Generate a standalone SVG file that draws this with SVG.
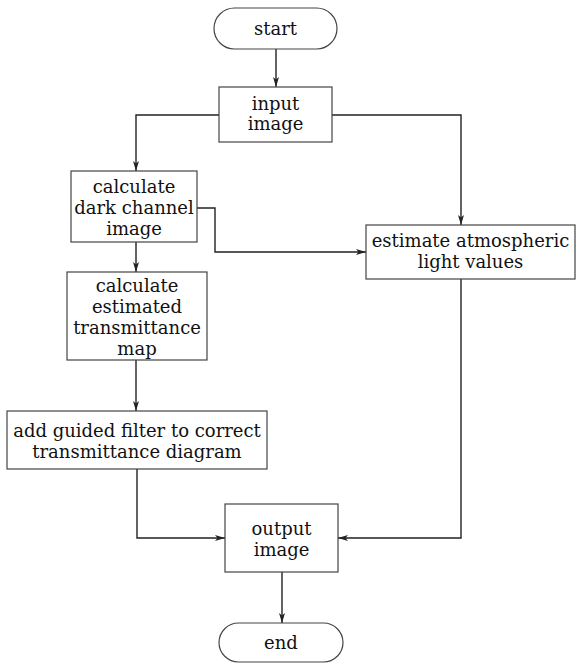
<svg xmlns="http://www.w3.org/2000/svg" width="576" height="663" viewBox="0 0 576 663">
<defs>
<marker id="ah" viewBox="0 0 10 6" refX="10" refY="3" markerWidth="10" markerHeight="6" markerUnits="userSpaceOnUse" orient="auto">
<path d="M0,0 L10,3 L0,6 L2.5,3 Z" fill="#222"/>
</marker>
</defs>
<style>
.box{fill:#fff;stroke:#444;stroke-width:1.2}
.t{font-size:18px;fill:#111;text-anchor:middle}
.c{fill:none;stroke:#222;stroke-width:1.4}
</style>
<rect width="576" height="663" fill="#fff"/>
<g id="connectors">
<path class="c" d="M276,49 V87" marker-end="url(#ah)"/>
<path class="c" d="M219,115 H136 V171" marker-end="url(#ah)"/>
<path class="c" d="M332,115 H461 V225" marker-end="url(#ah)"/>
<path class="c" d="M197,208 H215 V252 H366" marker-end="url(#ah)"/>
<path class="c" d="M136,242 V272" marker-end="url(#ah)"/>
<path class="c" d="M136,360 V411" marker-end="url(#ah)"/>
<path class="c" d="M137,469 V538 H225" marker-end="url(#ah)"/>
<path class="c" d="M461,279 V538 H338" marker-end="url(#ah)"/>
<path class="c" d="M282,572 V623" marker-end="url(#ah)"/>
</g>
<g font-family="'DejaVu Serif', 'Liberation Serif', serif">
<g id="start">
<rect class="box" x="214" y="8" width="123" height="41" rx="20.5"/>
<text class="t" x="275.5" y="35">start</text>
</g>
<g id="input">
<rect class="box" x="219" y="87" width="113" height="55"/>
<text class="t" x="275.5" y="110">input</text>
<text class="t" x="275.5" y="130">image</text>
</g>
<g id="dark">
<rect class="box" x="71" y="171" width="126" height="71"/>
<text class="t" x="134" y="193">calculate</text>
<text class="t" x="134" y="214">dark channel</text>
<text class="t" x="134" y="235">image</text>
</g>
<g id="atmos">
<rect class="box" x="366" y="225" width="209" height="54"/>
<text class="t" x="470.5" y="247">estimate atmospheric</text>
<text class="t" x="470.5" y="268">light values</text>
</g>
<g id="trans">
<rect class="box" x="67" y="272" width="140" height="88"/>
<text class="t" x="137" y="292">calculate</text>
<text class="t" x="137" y="313">estimated</text>
<text class="t" x="137" y="334">transmittance</text>
<text class="t" x="137" y="355">map</text>
</g>
<g id="guided">
<rect class="box" x="7" y="411" width="260" height="58"/>
<text class="t" x="137" y="437">add guided filter to correct</text>
<text class="t" x="137" y="458">transmittance diagram</text>
</g>
<g id="output">
<rect class="box" x="225" y="504" width="113" height="68"/>
<text class="t" x="281.5" y="535">output</text>
<text class="t" x="281.5" y="556">image</text>
</g>
<g id="end">
<rect class="box" x="219" y="623" width="124" height="39" rx="19.5"/>
<text class="t" x="281" y="649">end</text>
</g>
</g>
</svg>
